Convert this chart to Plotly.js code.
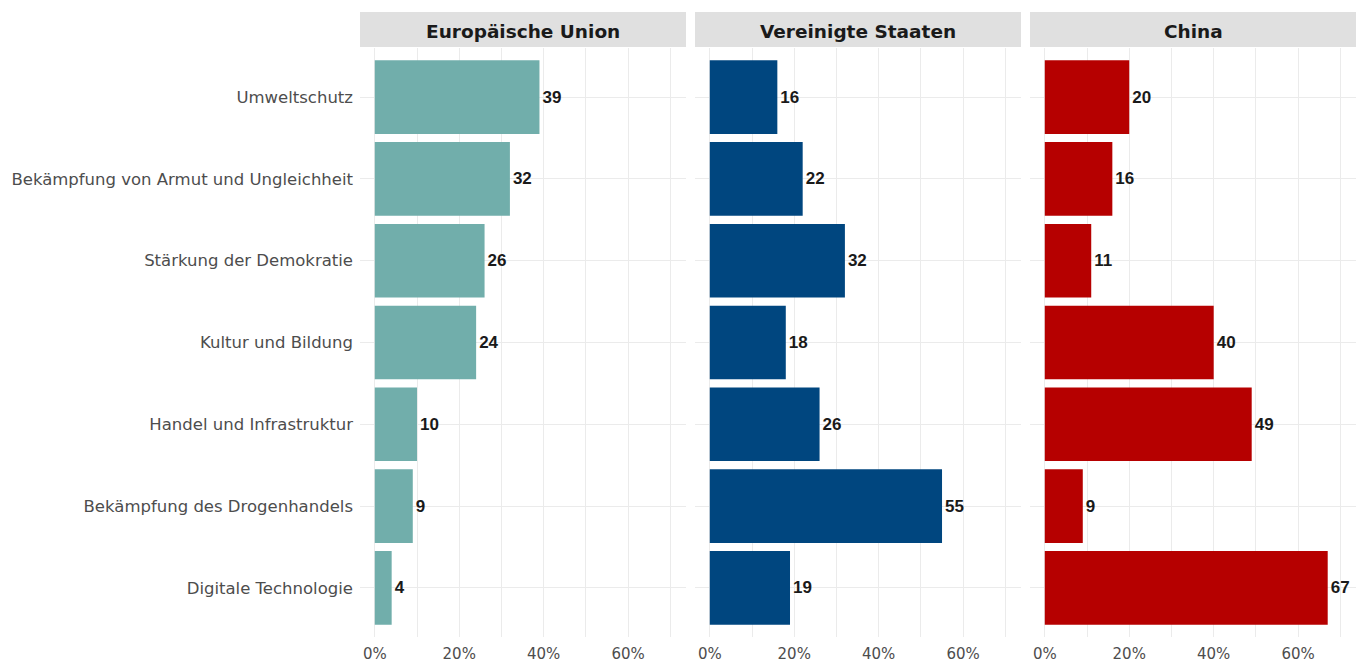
<!DOCTYPE html>
<html><head><meta charset="utf-8">
<script src="https://cdn.plot.ly/plotly-3.0.1.min.js"></script>
<style>html,body{margin:0;padding:0;background:#fff}#chart{width:1363px;height:664px}</style>
</head><body><div id="chart"></div>
<script>
const categories = ["Umweltschutz","Bekämpfung von Armut und Ungleichheit","Stärkung der Demokratie","Kultur und Bildung","Handel und Infrastruktur","Bekämpfung des Drogenhandels","Digitale Technologie"];
const panels = ["Europäische Union","Vereinigte Staaten","China"];
const euValues = [39,32,26,24,10,9,4];
const usValues = [16,22,32,18,26,55,19];
const cnValues = [20,16,11,40,49,9,67];
const colors = ["#71aeab","#00467f","#b60000"];
const tickVals = [0,0.2,0.4,0.6];
const tickText = ["0%","20%","40%","60%"];

const W = 1363, H = 664;
const series = [euValues, usValues, cnValues];
const xDomPx = [[360,686],[695,1021],[1030,1356]];
const yDom = [1-637/H, 1-48/H];
const labelFont = "DejaVu Sans, sans-serif";

const data = series.map((vals,i)=>({
  type:"bar", orientation:"h",
  x: vals.map(v=>v/100), y: categories,
  xaxis: i===0?"x":"x"+(i+1), yaxis: i===0?"y":"y"+(i+1),
  marker:{color:colors[i]},
  text: vals.map(String), textposition:"outside", cliponaxis:false,
  textfont:{family:"Liberation Sans, Arial, sans-serif", size:17, color:"#1a1a1a", weight:"bold"},
  hoverinfo:"skip", width:0.9
}));

const layout = {
  width:W, height:H, margin:{l:0,r:0,t:0,b:0},
  paper_bgcolor:"#fff", plot_bgcolor:"#fff", showlegend:false,
  shapes:[], annotations:[]
};
for(let i=0;i<3;i++){
  const xk = i===0?"xaxis":"xaxis"+(i+1);
  const yk = i===0?"yaxis":"yaxis"+(i+1);
  layout[xk] = {
    domain:[xDomPx[i][0]/W, xDomPx[i][1]/W], anchor: i===0?"y":"y"+(i+1),
    range:[-0.035,0.737], tickvals:tickVals, ticktext:tickText,
    showgrid:true, gridcolor:"#ebebeb", gridwidth:1, zeroline:false, showline:false,
    minor:{tickvals:[0.1,0.3,0.5,0.7], showgrid:true, gridcolor:"#ebebeb", gridwidth:1},
    tickfont:{family:labelFont, size:15, color:"#4d4d4d"}, ticks:"", ticklen:0,
    ticklabelstandoff:6, fixedrange:true
  };
  layout[yk] = {
    domain:yDom, anchor: i===0?"x":"x"+(i+1),
    type:"category", categoryorder:"array", categoryarray:categories,
    range:[6.6,-0.6], showgrid:true, gridcolor:"#ebebeb", gridwidth:1, zeroline:false,
    showticklabels: i===0, ticks:"", ticklen:0,
    tickfont:{family:labelFont, size:16.5, color:"#4d4d4d"}, ticklabelstandoff:6, fixedrange:true
  };
  if(i>0) layout[yk].matches = "y";
  layout.shapes.push({type:"rect", xref:"paper", yref:"paper", layer:"below",
    x0:xDomPx[i][0]/W, x1:xDomPx[i][1]/W, y0:1-47/H, y1:1-12/H,
    fillcolor:"#e0e0e0", line:{width:0}});
  layout.annotations.push({xref:"paper", yref:"paper", x:(xDomPx[i][0]+xDomPx[i][1])/2/W, y:1-31/H,
    text:panels[i], showarrow:false, xanchor:"center", yanchor:"middle",
    font:{family:"DejaVu Sans, sans-serif", size:18.5, color:"#1a1a1a", weight:"bold"}});
}
Plotly.newPlot("chart", data, layout, {staticPlot:true});
</script></body></html>
